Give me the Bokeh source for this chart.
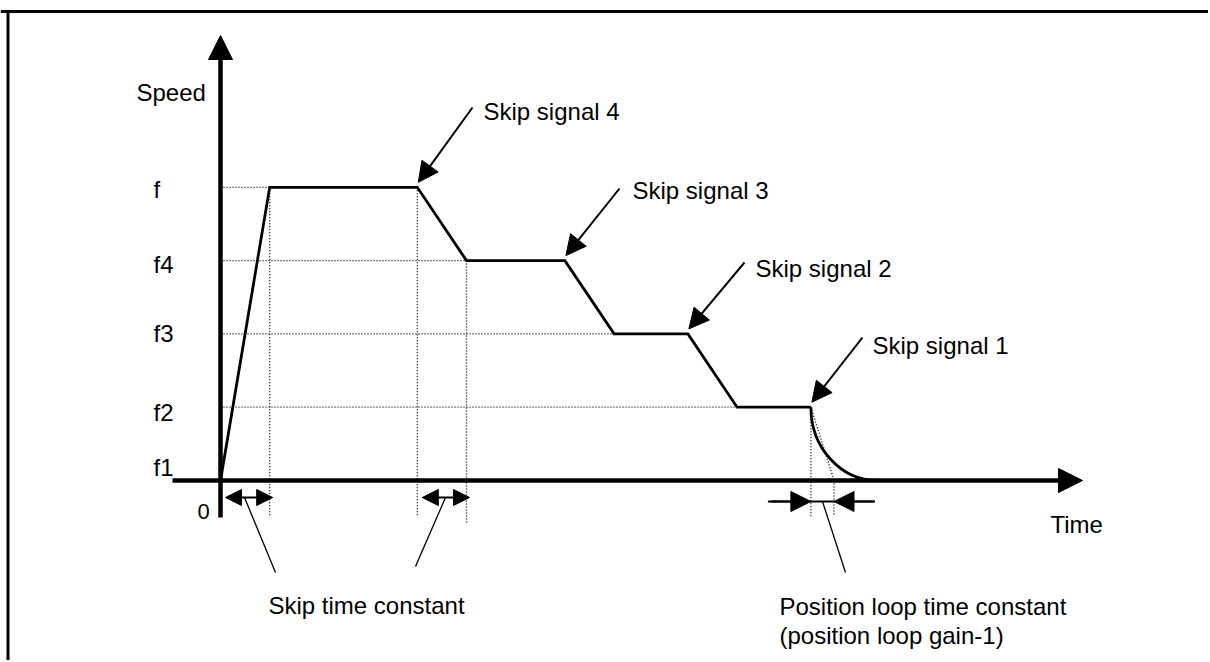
from bokeh.plotting import figure
from bokeh.models import Range1d, Arrow, NormalHead
from bokeh.core.properties import value
from bokeh.embed import file_html
from bokeh.resources import INLINE

# ---------------- data (schematic units: time in skip-time-constants, speed in levels)
level_labels = ["f", "f4", "f3", "f2", "f1"]
level_speeds = [4, 3, 2, 1, 0.27]
profile_time = [0, 1, 4, 5, 7, 8, 9.5, 10.5, 12]
profile_speed = [0, 4, 4, 3, 3, 2, 2, 1, 1]
skip_labels = ["Skip signal 4", "Skip signal 3", "Skip signal 2", "Skip signal 1"]
skip_times = [4, 7, 9.5, 12]
skip_speeds = [4, 3, 2, 1]
skip_time_constant = 1.0
position_loop_time_constant = 0.47
decay_end_time = 13.35
axis_labels = ["Speed", "Time", "0"]
note_labels = ["Skip time constant", "Position loop time constant", "(position loop gain-1)"]

# ---------------- layout
PX_T = 49.2      # pixels per time unit
PX_S = 73.3      # pixels per speed unit
OX, OY = 220, 480
W, H = 1208, 660
PAGE = 0


def tx(px):
    return (px - OX) / PX_T


def sy(py):
    return (OY - py) / PX_S


def dx(d):
    return d / PX_T


def dy(d):
    return d / PX_S


p = figure(width=W, height=H,
           x_range=Range1d(tx(PAGE), tx(PAGE + W)),
           y_range=Range1d(sy(PAGE + H), sy(PAGE)),
           output_backend="svg", toolbar_location=None,
           x_axis_type=None, y_axis_type=None,
           min_border=0, outline_line_color=None,
           background_fill_color="white", border_fill_color="white")
p.grid.visible = False

FONT = value("Liberation Sans")

# frame border (top and left)
p.segment(x0=[tx(0), tx(7.5)], y0=[sy(11), sy(11)], x1=[tx(1230), tx(7.5)], y1=[sy(11), sy(700)],
          line_width=3, line_color="black")

# ---------------- dotted guides
dot = dict(line_color="black", line_width=1.3, line_dash="1 2")
t_const = skip_time_constant
h_ends = [profile_time[1], profile_time[3], profile_time[5], profile_time[7]]
p.segment(x0=[0] * 4, y0=level_speeds[:4], x1=h_ends, y1=level_speeds[:4], **dot)
v_x = [profile_time[1], skip_times[0], skip_times[0] + t_const, skip_times[3],
       skip_times[3] + position_loop_time_constant]
v_top = [level_speeds[0], level_speeds[0], level_speeds[1], level_speeds[3], 0]
v_bot = [sy(516), sy(515), sy(522), sy(517), sy(515)]
p.segment(x0=v_x, y0=v_top, x1=v_x, y1=v_bot, **dot)
p.segment(x0=[skip_times[3]], y0=[skip_speeds[3]],
          x1=[skip_times[3] + position_loop_time_constant], y1=[0], **dot)

# ---------------- speed profile
p.line(profile_time, profile_speed, line_width=2.8, line_color="black", line_join="miter")
k = 0.5523
t_end = decay_end_time
t0 = skip_times[3]
p.bezier(x0=[t0], y0=[skip_speeds[3]], x1=[t_end], y1=[0],
         cx0=[t0], cy0=[skip_speeds[3] * (1 - k)],
         cx1=[t_end - (t_end - t0) * k], cy1=[0],
         line_width=2.8, line_color="black")

# ---------------- axes with arrow heads
p.add_layout(Arrow(end=NormalHead(size=24, fill_color="black", line_color="black", line_width=1),
                   x_start=tx(172), y_start=0, x_end=tx(1082), y_end=0,
                   line_width=4.5, line_color="black"))
p.add_layout(Arrow(end=NormalHead(size=24, fill_color="black", line_color="black", line_width=1),
                   x_start=0, y_start=sy(517), x_end=0, y_end=sy(35),
                   line_width=4.5, line_color="black"))

# ---------------- skip signal arrows
starts = [(472, 107), (619, 188), (744, 262), (862, 337)]
for (sx_, sy_), t, s in zip(starts, skip_times, skip_speeds):
    p.add_layout(Arrow(end=NormalHead(size=20, fill_color="black", line_color="black", line_width=1),
                       x_start=tx(sx_), y_start=sy(sy_),
                       x_end=t + dx(1), y_end=s + dy(5),
                       line_width=2, line_color="black"))

# ---------------- time-constant markers under the axis
ya = sy(497)
for a, b in [(0, skip_time_constant), (skip_times[0], skip_times[0] + skip_time_constant)]:
    p.add_layout(Arrow(start=NormalHead(size=16, fill_color="black", line_color="black", line_width=1),
                       end=NormalHead(size=16, fill_color="black", line_color="black", line_width=1),
                       x_start=a + dx(5), y_start=ya, x_end=b + dx(3), y_end=ya,
                       line_width=2, line_color="black"))

yb = sy(501)
tp0 = skip_times[3]
tp1 = skip_times[3] + position_loop_time_constant
p.segment(x0=[tp0 - dx(43)], y0=[yb], x1=[tp1 + dx(41)], y1=[yb], line_width=2, line_color="black")
p.add_layout(Arrow(end=NormalHead(size=20, fill_color="black", line_color="black", line_width=1),
                   x_start=tp0 - dx(40), y_start=yb, x_end=tp0, y_end=yb,
                   line_width=2, line_color="black"))
p.add_layout(Arrow(end=NormalHead(size=20, fill_color="black", line_color="black", line_width=1),
                   x_start=tp1 + dx(40), y_start=yb, x_end=tp1, y_end=yb,
                   line_width=2, line_color="black"))

# leader lines
p.segment(x0=[tx(244), tx(445), tx(822)], y0=[sy(497), sy(497), sy(501)],
          x1=[tx(275), tx(415), tx(845)], y1=[sy(572), sy(566), sy(572)],
          line_width=1.3, line_color="black")

# ---------------- texts
lvl_base = [189, 264, 333, 412, 467]
txt = dict(text_font=FONT, text_baseline="alphabetic", text_align="left", text_color="black")
p.text(x=[tx(153)] * 5, y=[sy(b) for b in lvl_base], text=level_labels, text_font_size="24px", **txt)
p.text(x=[tx(136), tx(1050)], y=[sy(92), sy(524)], text=axis_labels[:2], text_font_size="24px", **txt)
p.text(x=[tx(197)], y=[sy(511)], text=axis_labels[2:], text_font_size="22px", **txt)
sig_pos = [(483, 111), (632, 190), (755, 268), (872, 345)]
p.text(x=[tx(a) for a, _ in sig_pos], y=[sy(b) for _, b in sig_pos], text=skip_labels,
       text_font_size="24px", **txt)
p.text(x=[tx(268), tx(779), tx(779)], y=[sy(605), sy(606), sy(635)], text=note_labels,
       text_font_size="24px", **txt)

open("out.html", "w").write(file_html(p, INLINE))
